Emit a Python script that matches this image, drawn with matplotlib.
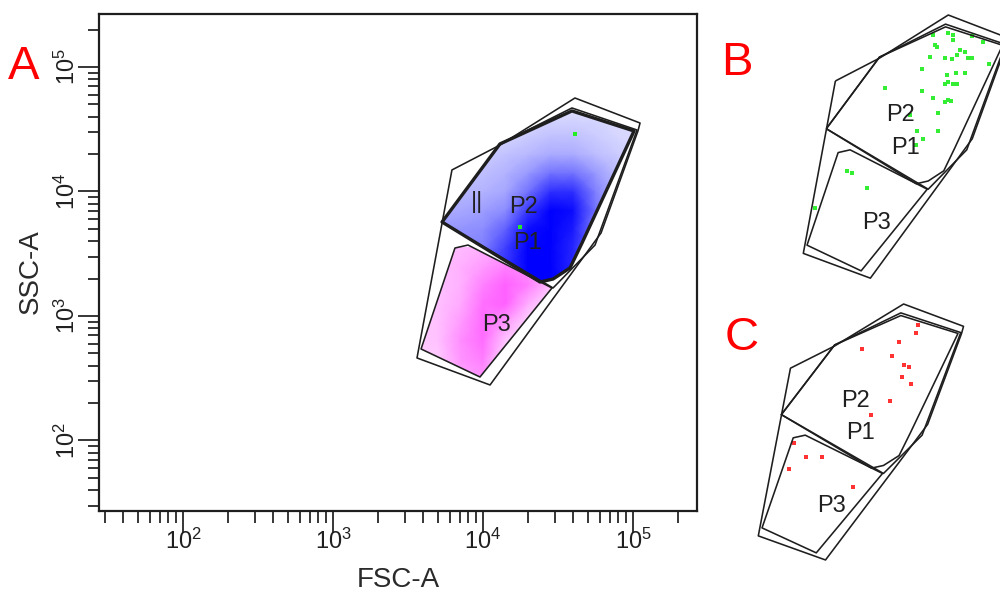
import numpy as np
import matplotlib
matplotlib.use("Agg")
import matplotlib.pyplot as plt
from matplotlib.patches import Polygon
from matplotlib.colors import LinearSegmentedColormap
from matplotlib.ticker import FixedLocator, FuncFormatter, NullFormatter

# ---------------- data (log10 FSC-A, log10 SSC-A) ----------------
gate_outer_x = [3.793, 4.113, 4.613, 5.047, 5.033, 4.787, 4.047, 3.560]
gate_outer_y = [4.173, 4.373, 4.751, 4.550, 4.486, 3.667, 2.446, 2.663]
gate_p1_x = [3.727, 4.113, 4.593, 5.007, 4.660, 4.580, 4.467, 4.380]
gate_p1_y = [3.755, 4.382, 4.647, 4.486, 3.586, 3.386, 3.297, 3.273]
gate_p2_x = [3.727, 4.113, 4.593, 5.027, 4.747, 4.467]
gate_p2_y = [3.755, 4.382, 4.671, 4.494, 3.570, 3.225]
gate_p3_x = [3.813, 3.900, 4.460, 3.980, 3.587]
gate_p3_y = [3.546, 3.570, 3.225, 2.510, 2.735]

gate_labels = ["P2", "P1", "P3"]
label_x = [4.267, 4.300, 4.093]
label_y = [3.876, 3.586, 2.928]

# event density (fraction of plotted area covered by dots) on a coarse grid
blue_grid_x = [3.70, 3.85, 4.00, 4.15, 4.30, 4.45, 4.60, 4.75, 4.90, 5.05]
blue_grid_y = [3.25, 3.40, 3.55, 3.70, 3.85, 4.00, 4.15, 4.30, 4.45, 4.60, 4.75]
blue_density = [
    [0.60, 0.70, 0.80, 0.90, 1.00, 1.00, 0.90, 0.70, 0.50, 0.40],
    [0.55, 0.60, 0.70, 0.80, 1.00, 1.00, 0.85, 0.60, 0.40, 0.30],
    [0.45, 0.45, 0.50, 0.75, 1.00, 1.00, 0.85, 0.55, 0.35, 0.30],
    [0.40, 0.42, 0.45, 0.62, 0.95, 1.00, 0.90, 0.50, 0.30, 0.25],
    [0.32, 0.34, 0.38, 0.45, 0.78, 1.00, 0.95, 0.55, 0.28, 0.22],
    [0.25, 0.28, 0.30, 0.35, 0.55, 0.82, 0.82, 0.50, 0.26, 0.20],
    [0.20, 0.24, 0.25, 0.30, 0.40, 0.55, 0.55, 0.40, 0.25, 0.20],
    [0.16, 0.16, 0.20, 0.24, 0.28, 0.33, 0.33, 0.26, 0.20, 0.16],
    [0.12, 0.12, 0.15, 0.16, 0.20, 0.24, 0.24, 0.20, 0.16, 0.15],
    [0.08, 0.08, 0.12, 0.12, 0.15, 0.16, 0.16, 0.16, 0.15, 0.12],
    [0.08, 0.08, 0.08, 0.08, 0.08, 0.08, 0.08, 0.08, 0.08, 0.08],
]
pink_grid_x = [3.55, 3.70, 3.85, 4.00, 4.15, 4.30, 4.45]
pink_grid_y = [2.50, 2.65, 2.80, 2.95, 3.10, 3.25, 3.40, 3.55]
pink_density = [
    [0.30, 0.30, 0.55, 0.65, 0.20, 0.15, 0.10],
    [0.30, 0.32, 0.65, 0.80, 0.22, 0.15, 0.10],
    [0.32, 0.38, 0.70, 0.90, 0.35, 0.15, 0.10],
    [0.32, 0.38, 0.62, 0.92, 0.62, 0.25, 0.15],
    [0.32, 0.38, 0.52, 0.88, 0.97, 0.50, 0.20],
    [0.32, 0.38, 0.48, 0.78, 0.97, 0.80, 0.40],
    [0.32, 0.38, 0.48, 0.62, 0.78, 0.72, 0.40],
    [0.32, 0.42, 0.42, 0.48, 0.52, 0.50, 0.40],
]

green_a_x = [4.613, 4.247]
green_a_y = [4.462, 3.715]

green_b_x = [4.504, 4.613, 4.649, 4.783, 4.867, 4.516, 4.649, 4.528, 4.698, 4.734,
             4.674, 4.758, 4.783, 4.480, 4.589, 4.637, 4.911, 4.420, 4.601, 4.668,
             4.734, 4.613, 4.589, 4.649, 4.678, 4.153, 4.424, 4.504, 4.613, 4.589,
             4.630, 4.540, 4.335, 4.383, 4.540, 4.432, 4.379, 3.875, 3.911, 4.020,
             3.645]
green_b_y = [4.576, 4.590, 4.576, 4.567, 4.517, 4.488, 4.532, 4.474, 4.444, 4.430,
             4.401, 4.371, 4.371, 4.380, 4.377, 4.363, 4.322, 4.278, 4.225, 4.246,
             4.246, 4.167, 4.147, 4.147, 4.147, 4.109, 4.088, 4.021, 4.006, 3.992,
             4.001, 3.890, 3.875, 3.738, 3.738, 3.662, 3.612, 3.387, 3.370, 3.233,
             3.058]

red_c_x = [4.720, 4.703, 4.582, 4.311, 4.529, 4.616, 4.654, 4.599, 4.666, 4.514,
           4.377, 3.821, 3.906, 4.022, 3.785, 4.244]
red_c_y = [4.562, 4.493, 4.412, 4.343, 4.283, 4.199, 4.184, 4.091, 4.028, 3.881,
           3.752, 3.502, 3.376, 3.376, 3.265, 3.100]

tick_decades = [2, 3, 4, 5]

# ---------------- styling helpers ----------------
LINE = "#1e1e1e"
TXT = "#202020"
LBL_FONT = ["Liberation Sans", "DejaVu Sans"]
TICK_FONT = ["Liberation Sans Narrow", "DejaVu Sans Condensed", "Liberation Sans", "DejaVu Sans"]


def pts(xs, ys):
    return np.column_stack([10 ** np.asarray(xs), 10 ** np.asarray(ys)])


def draw_gates(ax, thick_p1):
    polys = {}
    for name, gx, gy in [("outer", gate_outer_x, gate_outer_y),
                         ("p2", gate_p2_x, gate_p2_y),
                         ("p3", gate_p3_x, gate_p3_y),
                         ("p1", gate_p1_x, gate_p1_y)]:
        lw = 2.4 if (name == "p1" and thick_p1) else 1.15
        p = Polygon(pts(gx, gy), closed=True, fill=False, ec=LINE, lw=lw,
                    joinstyle="round", zorder=3)
        ax.add_patch(p)
        polys[name] = p
    return polys


def draw_labels(ax, extra=False):
    for t, x, y in zip(gate_labels, label_x, label_y):
        ax.text(10 ** x, 10 ** y, t, ha="center", va="center", fontsize=17,
                color=TXT, family=LBL_FONT, zorder=5)
    if extra:
        ax.text(10 ** 3.96, 10 ** 3.916, "||", ha="center", va="center",
                fontsize=17, color=TXT, family=LBL_FONT, zorder=5)


def shade(ax, gx, gy, dens, color, clip):
    cmap = LinearSegmentedColormap.from_list("c", ["white", color])
    X, Y = np.meshgrid(10 ** np.asarray(gx), 10 ** np.asarray(gy))
    m = ax.pcolormesh(X, Y, np.asarray(dens), cmap=cmap, vmin=0, vmax=1,
                      shading="gouraud", zorder=1)
    m.set_clip_path(clip)


def setup_log(ax, xl, yl):
    ax.set_xscale("log")
    ax.set_yscale("log")
    ax.set_xlim(10 ** xl[0], 10 ** xl[1])
    ax.set_ylim(10 ** yl[0], 10 ** yl[1])


fig = plt.figure(figsize=(10, 5.99), dpi=100)

# ---------------- panel A ----------------
axA = fig.add_axes([0.099, 1 - 511 / 599, 0.598, 497 / 599])
polysA = draw_gates(axA, thick_p1=True)
shade(axA, blue_grid_x, blue_grid_y, blue_density, (0, 0, 1), polysA["p1"])
shade(axA, pink_grid_x, pink_grid_y, pink_density, "#ff5cff", polysA["p3"])
axA.scatter(10 ** np.array(green_a_x), 10 ** np.array(green_a_y), s=5, marker="s",
            color="#22ee22", lw=0, zorder=2)
draw_labels(axA, extra=True)
setup_log(axA, (1.44, 5.4267), (1.4337, 5.4257))

majors = [10.0 ** d for d in tick_decades]
minors = [m * 10.0 ** e for e in range(1, 6) for m in range(2, 10)]
for axis in (axA.xaxis, axA.yaxis):
    axis.set_major_locator(FixedLocator(majors))
    axis.set_minor_locator(FixedLocator(minors))
    axis.set_major_formatter(FuncFormatter(
        lambda v, p: r"$\mathregular{10^{%d}}$" % int(round(np.log10(v)))))
    axis.set_minor_formatter(NullFormatter())
axA.tick_params(axis="x", which="major", direction="out", length=16, width=1.1,
                pad=-3, labelsize=17, top=False)
axA.tick_params(axis="x", which="minor", direction="out", length=8.5, width=1.1, top=False)
axA.tick_params(axis="y", which="major", direction="out", length=15, width=1.1,
                pad=-1, labelsize=17, right=False)
axA.tick_params(axis="y", which="minor", direction="out", length=8, width=1.1, right=False)
for lbl in axA.get_xticklabels() + axA.get_yticklabels():
    lbl.set_family(TICK_FONT)
    lbl.set_color(TXT)
for lbl in axA.get_yticklabels():
    lbl.set_rotation(90)
    lbl.set_va("center")
for sp in axA.spines.values():
    sp.set_linewidth(1.6)
    sp.set_color(LINE)

fig.text(0.398, 1 - 580 / 599, "FSC-A", ha="center", va="center", fontsize=20,
         color="#2a2a2a", family=LBL_FONT)
fig.text(0.031, 1 - 272 / 599, "SSC-A", ha="center", va="center", fontsize=20,
         rotation=90, color="#2a2a2a", family=LBL_FONT)

# ---------------- panel B ----------------
axB = fig.add_axes([0.76, 1 - 290 / 599, 0.24, 290 / 599])
axB.set_axis_off()
draw_gates(axB, thick_p1=False)
axB.scatter(10 ** np.array(green_b_x), 10 ** np.array(green_b_y), s=5, marker="s",
            color="#33ee33", lw=0, zorder=2)
draw_labels(axB)
setup_log(axB, (3.2455, 4.9885), (2.3423, 4.8824))

# ---------------- panel C ----------------
axC = fig.add_axes([0.72, 0.0, 0.28, 309 / 599])
axC.set_axis_off()
draw_gates(axC, thick_p1=False)
axC.scatter(10 ** np.array(red_c_x), 10 ** np.array(red_c_y), s=5, marker="s",
            color="#ff3333", lw=0, zorder=2)
draw_labels(axC)
setup_log(axC, (3.2825, 5.3114), (2.0946, 4.8771))

# panel letters
for letter, x, y in [("A", 24, 67), ("B", 737, 63), ("C", 742, 338)]:
    fig.text(x / 1000, 1 - y / 599, letter, ha="center", va="center", fontsize=34,
             color="#ff0000", family=LBL_FONT)

fig.savefig("out.png", dpi=100)
